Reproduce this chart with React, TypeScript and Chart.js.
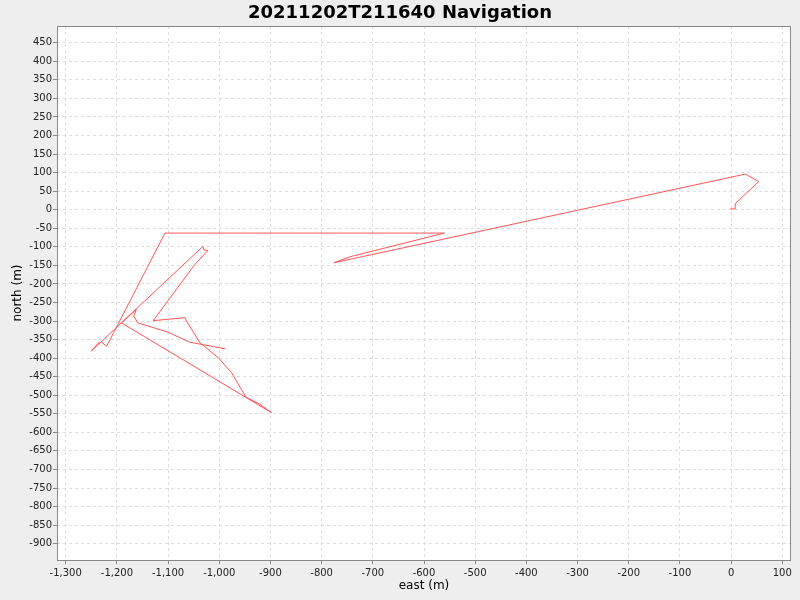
import React, { useEffect, useRef } from "react";
import { Chart, registerables } from "chart.js";

Chart.register(...registerables);

const chartTitle = "20211202T211640 Navigation";
const xAxisTitle = "east (m)";
const yAxisTitle = "north (m)";

const eastValues = [-2, 8, 8, 54, 28, -776, -745, -560, -1106, -1220, -1230, -1237, -1250, -1032, -1030, -1022, -1048, -1129, -1067, -1064, -1038, -1002, -976, -957, -947, -921, -898, -1191, -1162, -1167, -1159, -1100, -1058, -988];
const northValues = [2, 2, 16, 76, 96, -143, -127, -63, -63, -368, -357, -360, -381, -99, -108, -110, -148, -299, -291, -300, -358, -399, -439, -484, -506, -524, -547, -305, -269, -287, -305, -330, -357, -375];

const xTicks = [-1300, -1200, -1100, -1000, -900, -800, -700, -600, -500, -400, -300, -200, -100, 0, 100];
const yTicks = [450, 400, 350, 300, 250, 200, 150, 100, 50, 0, -50, -100, -150, -200, -250, -300, -350, -400, -450, -500, -550, -600, -650, -700, -750, -800, -850, -900];

const xRange = [-1317, 117];
const yRange = [-944, 495];

const fmt = (v: number) => Number(v).toLocaleString("en-US");

export default function App() {
  const ref = useRef<HTMLCanvasElement | null>(null);
  useEffect(() => {
    if (!ref.current) return;
    const points = eastValues.map((x, i) => ({ x, y: northValues[i] }));
    const deco = {
      id: "deco",
      beforeDraw(chart: any) {
        const { ctx, chartArea: a } = chart;
        ctx.save();
        ctx.fillStyle = "#eeeeee";
        ctx.fillRect(0, 0, chart.width, chart.height);
        ctx.fillStyle = "#ffffff";
        ctx.fillRect(a.left, a.top, a.right - a.left, a.bottom - a.top);
        ctx.restore();
      },
      afterDraw(chart: any) {
        const { ctx, chartArea: a } = chart;
        ctx.save();
        ctx.strokeStyle = "#888888";
        ctx.lineWidth = 1;
        ctx.strokeRect(Math.round(a.left) + 0.5, Math.round(a.top) + 0.5, Math.round(a.right - a.left) - 1, Math.round(a.bottom - a.top));
        ctx.fillStyle = "#000000";
        ctx.textAlign = "center";
        ctx.textBaseline = "middle";
        ctx.font = "bold 18px 'DejaVu Sans'";
        ctx.fillText(chartTitle, 400, 13);
        ctx.font = "12px 'DejaVu Sans'";
        ctx.fillText(xAxisTitle, (a.left + a.right) / 2, 586);
        ctx.translate(18, (a.top + a.bottom) / 2);
        ctx.rotate(-Math.PI / 2);
        ctx.fillText(yAxisTitle, 0, 0);
        ctx.restore();
      },
    };
    const gridCommon = {
      color: "#dddddd",
      tickColor: "#888888",
      tickLength: 4,
      tickBorderDash: [],
      drawTicks: true,
    };
    const borderCommon = { display: false, dash: [3, 3] };
    const chart = new Chart(ref.current, {
      type: "scatter",
      data: {
        datasets: [
          {
            data: points,
            showLine: true,
            borderColor: "#ff5555",
            borderWidth: 1,
            pointRadius: 0,
            fill: false,
            tension: 0,
          },
        ],
      },
      options: {
        responsive: false,
        animation: false,
        devicePixelRatio: 1,
        layout: { padding: { top: 26, right: 9, left: 0, bottom: 0 } },
        plugins: { legend: { display: false }, title: { display: false }, tooltip: { enabled: false } },
        scales: {
          x: {
            type: "linear",
            min: xRange[0],
            max: xRange[1],
            afterBuildTicks: (s: any) => { s.ticks = xTicks.map((v) => ({ value: v })); },
            afterFit: (s: any) => { s.height = 40; },
            grid: gridCommon,
            border: borderCommon,
            ticks: {
              callback: (v: any) => fmt(v),
              font: { family: "'DejaVu Sans'", size: 10 },
              color: "#222222",
              padding: 3,
              maxRotation: 0,
              autoSkip: false,
            },
          },
          y: {
            type: "linear",
            min: yRange[0],
            max: yRange[1],
            afterBuildTicks: (s: any) => { s.ticks = yTicks.map((v) => ({ value: v })); },
            afterFit: (s: any) => { s.width = 57; },
            grid: gridCommon,
            border: borderCommon,
            ticks: {
              callback: (v: any) => fmt(v),
              font: { family: "'DejaVu Sans'", size: 10 },
              color: "#222222",
              padding: 1,
              autoSkip: false,
            },
          },
        },
      } as any,
      plugins: [deco],
    });
    return () => chart.destroy();
  }, []);
  return (
    <div style={{ position: "fixed", left: 0, top: 0, width: 800, height: 600 }}>
      <canvas ref={ref} width={800} height={600} style={{ width: 800, height: 600, display: "block" }} />
    </div>
  );
}
